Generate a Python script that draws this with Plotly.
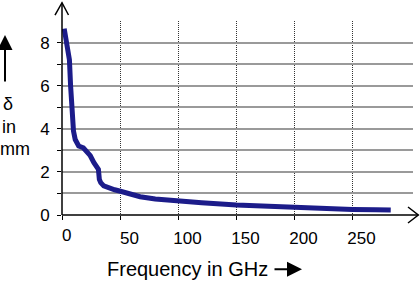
import plotly.graph_objects as go

# ---- data ----
freq_ghz = [1.5, 4, 6, 7, 8.3, 9.5, 11, 12.5, 14, 18, 21, 24, 27, 29.5, 31, 31.8,
            33, 35.6, 40, 45, 50, 58, 67, 80, 100, 120, 150, 175, 200, 225, 250, 270, 283]
delta_mm = [8.65, 7.8, 7.2, 6.0, 4.6, 3.9, 3.5, 3.3, 3.2, 3.12, 2.97, 2.75, 2.44, 2.2, 2.12, 1.65,
            1.5, 1.35, 1.25, 1.17, 1.1, 0.97, 0.85, 0.74, 0.64, 0.57, 0.46, 0.40, 0.34, 0.30, 0.26, 0.24, 0.23]
x_ticks = [0, 50, 100, 150, 200, 250]
x_tick_text = ["0", "50", "100", "150", "200", "250"]
y_ticks = [0, 1, 2, 3, 4, 5, 6, 7, 8]
y_tick_text = ["0", "", "2", "", "4", "", "6", "", "8"]
x_title = "Frequency in GHz"
y_title_lines = ["δ", "in", "mm"]

W, H = 420, 284
L, R, T, B = 62, 413, 21, 215.5
FONT = "Liberation Sans, Arial, sans-serif"
X0 = -0.4


def px(x):
    return (x - L) / (R - L)


def py(y):
    return (B - y) / (B - T)


fig = go.Figure()
fig.add_trace(go.Scatter(x=freq_ghz, y=delta_mm, mode="lines",
                         line=dict(color="#1c1c8a", width=5), showlegend=False))

fig.update_layout(
    width=W, height=H,
    margin=dict(l=L, r=W - R, t=T, b=H - B, pad=0),
    paper_bgcolor="white", plot_bgcolor="white",
    font=dict(family=FONT, color="black", size=17),
    xaxis=dict(range=[X0, X0 + (R - L) * 50 / 58], tickvals=x_ticks,
               ticktext=[""] + x_tick_text[1:], showgrid=True,
               gridcolor="#333", gridwidth=1, griddash="1px,1px", zeroline=False,
               showline=False, ticks="outside", ticklen=4, tickcolor="black",
               ticklabelshift=9, ticklabelstandoff=4,
               tickfont=dict(family=FONT, size=17, color="black")),
    yaxis=dict(range=[0, 9], tickvals=y_ticks, ticktext=y_tick_text, showgrid=True,
               gridcolor="#9a9a9a", gridwidth=1.5, zeroline=False, showline=False,
               ticks="outside", ticklen=4, tickcolor="black", ticklabelstandoff=4,
               tickfont=dict(family=FONT, size=17, color="black")),
)

# the first x tick label (plotly drops it at the corner), placed at x = 0 on the axis
fig.add_annotation(xref="x", yref="paper", x=x_ticks[0], y=py(236.5), text=x_tick_text[0],
                   showarrow=False, xanchor="center", yanchor="middle", xshift=4,
                   font=dict(family=FONT, size=17, color="black"))

# axes with open arrowheads
line = dict(color="black", width=1.5)
fig.add_shape(type="line", xref="paper", yref="paper", x0=px(62), y0=py(B), x1=px(62), y1=py(2.7), line=line, layer="above")
fig.add_shape(type="path", xref="paper", yref="paper",
              path=f"M {px(55)},{py(15)} L {px(62)},{py(2.7)} L {px(68.5)},{py(15)}", line=line, layer="above")
fig.add_shape(type="line", xref="paper", yref="paper", x0=px(62), y0=py(B), x1=px(418.3), y1=py(B), line=line, layer="above")
fig.add_shape(type="path", xref="paper", yref="paper",
              path=f"M {px(408)},{py(207.5)} L {px(418.3)},{py(B)} L {px(408)},{py(223.5)}", line=line, layer="above")

# x title + arrow
fig.add_annotation(xref="paper", yref="paper", x=px(187), y=py(270), text=x_title, showarrow=False,
                   xanchor="center", yanchor="middle", font=dict(family=FONT, size=20, color="black"))
fig.add_annotation(xref="paper", yref="paper", x=px(302), y=py(270), text="", showarrow=True,
                   ax=-29, ay=0, arrowhead=2, arrowsize=1.5, arrowwidth=2, arrowcolor="black", standoff=0)

# y title (three lines) + arrow
y_centers = [104, 127, 149]
x_centers = [8, 9, 15]
for txt, xc, yc in zip(y_title_lines, x_centers, y_centers):
    fig.add_annotation(xref="paper", yref="paper", x=px(xc), y=py(yc), text=txt, showarrow=False,
                       xanchor="center", yanchor="middle",
                       font=dict(family=FONT, size=18, color="black"))
fig.add_annotation(xref="paper", yref="paper", x=px(5), y=py(35), text="", showarrow=True,
                   ax=0, ay=48, arrowhead=2, arrowsize=1.5, arrowwidth=2, arrowcolor="black", standoff=0)

fig.write_html("out.html")
